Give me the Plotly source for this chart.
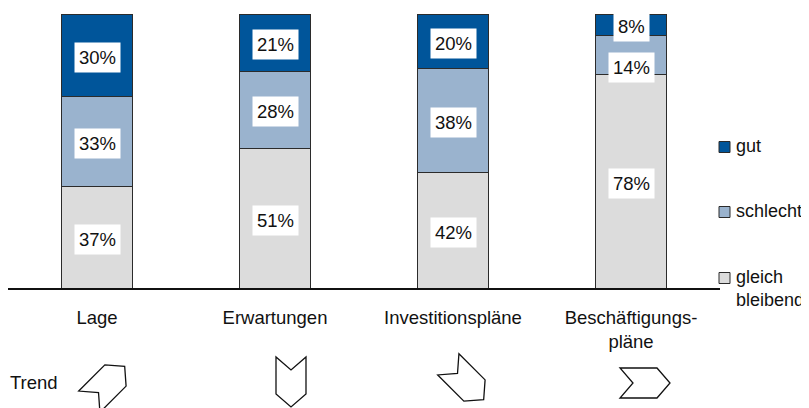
import math
import plotly.graph_objects as go

# ---- data ----
categories = ["Lage", "Erwartungen", "Investitionspläne", "Beschäftigungs-<br>pläne"]
gleich_bleibend = [37, 51, 42, 78]
schlecht = [33, 28, 38, 14]
gut = [30, 21, 20, 8]
series_names = ["gleich<br>bleibend", "schlecht", "gut"]
trend_angles = [45, -90, -45, 0]   # direction of trend arrows in degrees

# ---- style / layout ----
OFF = 8                         # page body margin in the browser
W, H = 809 - OFF, 408 - OFF
FONT = "Arial, Liberation Sans, sans-serif"
colors = ["#DCDCDC", "#9AB3CE", "#00559A"]
x0_px, x1_px = 8, 720          # x axis extent in window pixels
y_bot_px, y_top_px = 288, 14   # plot area in window pixels

def px2paper(x, y):
    return (x - OFF) / W, 1 - (y - OFF) / H

fig = go.Figure()
series = [gleich_bleibend, schlecht, gut]
for name, vals, col in zip(series_names, series, colors):
    fig.add_trace(go.Bar(
        x=categories, y=vals, name=name,
        marker=dict(color=col, line=dict(color="#2b2b2b", width=1)),
        hoverinfo="skip", showlegend=False,
    ))

# value labels in white boxes
yshift_fix = {(3, 1): -10}
for ci, cat in enumerate(categories):
    base = 0
    for si, vals in enumerate(series):
        v = vals[ci]
        fig.add_annotation(
            x=cat, y=base + v / 2, xref="x", yref="y",
            text=f"{v}%", showarrow=False,
            font=dict(family=FONT, size=18.5, color="#111111"),
            bgcolor="white", borderpad=4,
            yshift=yshift_fix.get((ci, si), 0) - 2,
        )
        base += v

# legend (drawn manually: square + text)
legend_y = {"gut": 147, "schlecht": 212, "gleich<br>bleibend": 278}
for name, col in zip(series_names, colors):
    cy = legend_y[name]
    ax0, ay0 = px2paper(719, cy - 5.5)
    ax1, ay1 = px2paper(730, cy + 5.5)
    fig.add_shape(type="rect", xref="paper", yref="paper",
                  x0=ax0, x1=ax1, y0=ay0, y1=ay1,
                  fillcolor=col, line=dict(color="#2b2b2b", width=1))
    lx, ly = px2paper(735, cy - 12)
    fig.add_annotation(x=lx, y=ly, xref="paper", yref="paper",
                       xanchor="left", yanchor="top", align="left",
                       text=name, showarrow=False, borderpad=0,
                       font=dict(family=FONT, size=18, color="#111111"))

# "Trend" label
tx, ty = px2paper(8, 382)
fig.add_annotation(x=tx, y=ty, xref="paper", yref="paper", xanchor="left",
                   yanchor="middle", text="Trend", showarrow=False,
                   font=dict(family=FONT, size=18.5, color="#111111"))

# trend chevrons
slot = (x1_px - x0_px) / len(categories)
icon_dx = [10, 16, 13, 14]
icon_y = [384, 382, 382, 383]
L, Wd, d = 50, 30, 13
local = [(-L / 2, -Wd / 2), (L / 2 - d, -Wd / 2), (L / 2, 0),
         (L / 2 - d, Wd / 2), (-L / 2, Wd / 2), (-L / 2 + d, 0)]
for i, ang in enumerate(trend_angles):
    cx = x0_px + slot * (i + 0.5) + icon_dx[i]
    cy = icon_y[i]
    t = math.radians(ang)
    dx_, dy_ = math.cos(t), -math.sin(t)
    px_, py_ = math.sin(t), math.cos(t)
    pts = []
    for u, v in local:
        sx = cx + u * dx_ + v * px_
        sy = cy + u * dy_ + v * py_
        pts.append(px2paper(sx, sy))
    path = "M " + " L ".join(f"{a:.5f},{b:.5f}" for a, b in pts) + " Z"
    fig.add_shape(type="path", path=path, xref="paper", yref="paper",
                  line=dict(color="#111111", width=1.3), fillcolor="rgba(0,0,0,0)")

xd0, _ = px2paper(x0_px, 0)
xd1, _ = px2paper(x1_px, 0)
_, yd0 = px2paper(0, y_bot_px)
_, yd1 = px2paper(0, y_top_px)

fig.update_layout(
    width=W, height=H,
    margin=dict(l=0, r=0, t=0, b=0, autoexpand=False),
    barmode="stack", bargap=0.6,
    plot_bgcolor="white", paper_bgcolor="white",
    font=dict(family=FONT, size=18.5, color="#111111"),
    xaxis=dict(domain=[max(xd0, 0), xd1], showline=True, linecolor="#111111",
               linewidth=1.5, ticks="", showgrid=False, zeroline=False,
               automargin=False,
               tickfont=dict(family=FONT, size=18.5, color="#111111"),
               ticklabelstandoff=12),
    yaxis=dict(domain=[yd0, yd1], range=[0, 100],
               visible=False, showgrid=False, automargin=False),
    showlegend=False,
)

fig.write_html("out.html")
